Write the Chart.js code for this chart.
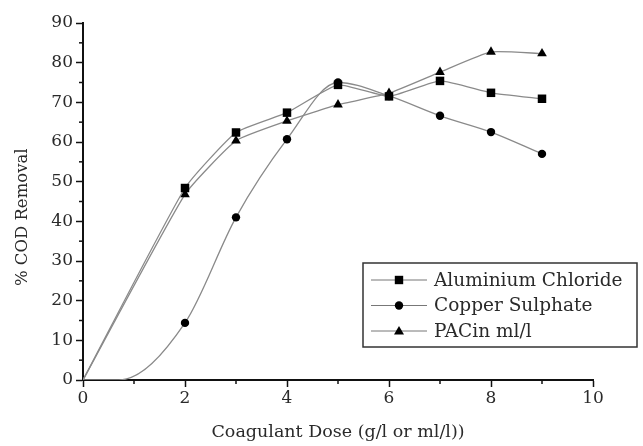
<!DOCTYPE html>
<html>
<head>
<meta charset="utf-8">
<script src="https://cdn.jsdelivr.net/npm/chart.js@4.4.0/dist/chart.umd.min.js"></script>
<style>
  html, body { margin: 0; padding: 0; background: #fff; }
  #chart { display: block; }
</style>
</head>
<body>
<canvas id="chart" width="643" height="446"></canvas>
<script>
const doses = [0, 2, 3, 4, 5, 6, 7, 8, 9];
const alChloride = [0, 48.4, 62.4, 67.4, 74.4, 71.5, 75.4, 72.4, 70.9];
const pacValues = [0, 46.8, 60.3, 65.3, 69.4, 72.3, 77.6, 82.7, 82.3];
// the copper curve lies on the axis until about 0.7
const copperDoses = [0, 0.7, 2, 3, 4, 5, 6, 7, 8, 9];
const copperSulphate = [0, 0, 14.4, 41, 60.7, 75, 71.6, 66.6, 62.5, 57];
const seriesNames = ['Aluminium Chloride', 'Copper Sulphate', 'PACin ml/l'];
const xTicks = [0, 2, 4, 6, 8, 10];
const yTicks = [0, 10, 20, 30, 40, 50, 60, 70, 80, 90];

const serif = '"DejaVu Serif", "Liberation Serif", serif';
const textColor = '#2a2a2a';

function toPoints(xs, ys) {
    return xs.map((x, i) => ({ x: x, y: ys[i] }));
}

// minor ticks between the major ones, drawn from the scale itself
const minorTicks = {
    id: 'minorTicks',
    afterDraw(chart) {
        const ctx = chart.ctx;
        const xs = chart.scales.x;
        const ys = chart.scales.y;
        ctx.save();
        ctx.strokeStyle = '#111';
        ctx.lineWidth = 1.5;
        for (let i = 0; i < xTicks.length - 1; i++) {
            const px = xs.getPixelForValue((xTicks[i] + xTicks[i + 1]) / 2);
            ctx.beginPath();
            ctx.moveTo(px, xs.top);
            ctx.lineTo(px, xs.top + 4);
            ctx.stroke();
        }
        for (let i = 0; i < yTicks.length - 1; i++) {
            const py = ys.getPixelForValue((yTicks[i] + yTicks[i + 1]) / 2);
            ctx.beginPath();
            ctx.moveTo(ys.right, py);
            ctx.lineTo(ys.right - 4, py);
            ctx.stroke();
        }
        ctx.restore();
    }
};

function drawMarker(ctx, style, x, y) {
    ctx.beginPath();
    if (style === 'rect') {
        ctx.rect(x - 4.2, y - 4.2, 8.4, 8.4);
    } else if (style === 'circle') {
        ctx.arc(x, y, 4.2, 0, Math.PI * 2);
    } else {
        ctx.moveTo(x, y - 5);
        ctx.lineTo(x + 5, y + 3.5);
        ctx.lineTo(x - 5, y + 3.5);
        ctx.closePath();
    }
    ctx.fill();
}

// boxed legend in the lower right
const boxLegend = {
    id: 'boxLegend',
    afterDraw(chart) {
        const ctx = chart.ctx;
        ctx.save();
        ctx.strokeStyle = '#333';
        ctx.lineWidth = 1.5;
        ctx.strokeRect(363, 263, 274, 84);
        chart.data.datasets.forEach((ds, i) => {
            const y = 280 + i * 25.5;
            ctx.strokeStyle = '#777';
            ctx.lineWidth = 1;
            ctx.beginPath();
            ctx.moveTo(371, y);
            ctx.lineTo(427, y);
            ctx.stroke();
            ctx.fillStyle = '#000';
            drawMarker(ctx, ds.pointStyle, 399, y);
            ctx.fillStyle = textColor;
            ctx.font = '18.5px ' + serif;
            ctx.textBaseline = 'middle';
            ctx.fillText(ds.label, 434, y + 1);
        });
        ctx.restore();
    }
};

const ctx = document.getElementById('chart').getContext('2d');
new Chart(ctx, {
    type: 'line',
    data: {
        datasets: [{
            label: seriesNames[0],
            data: toPoints(doses, alChloride),
            pointStyle: 'rect',
            pointRadius: doses.map((d, i) => i === 0 ? 0 : 6),
            tension: 0.15
        }, {
            label: seriesNames[1],
            data: toPoints(copperDoses, copperSulphate),
            pointStyle: 'circle',
            pointRadius: copperDoses.map((d, i) => i < 2 ? 0 : 4.2),
            cubicInterpolationMode: 'monotone'
        }, {
            label: seriesNames[2],
            data: toPoints(doses, pacValues),
            pointStyle: 'triangle',
            pointRadius: doses.map((d, i) => i === 0 ? 0 : 5.6),
            tension: 0.15
        }]
    },
    options: {
        responsive: false,
        animation: false,
        layout: { padding: { top: 23, right: 50, left: 0, bottom: 0 } },
        elements: {
            line: { borderColor: '#8a8a8a', borderWidth: 1.3, fill: false },
            point: { backgroundColor: '#000', borderColor: '#000', borderWidth: 0, hoverRadius: 6 }
        },
        plugins: {
            legend: { display: false },
            tooltip: { enabled: false }
        },
        scales: {
            x: {
                type: 'linear',
                min: 0,
                max: 10,
                afterFit(scale) { scale.height = 66; },
                ticks: { stepSize: 2, color: textColor, font: { family: serif, size: 17 }, padding: 1, maxRotation: 0 },
                grid: { drawOnChartArea: false, drawTicks: true, tickLength: 7, tickColor: '#111', tickWidth: 1.5 },
                border: { color: '#111', width: 2 },
                title: {
                    display: true,
                    text: 'Coagulant Dose (g/l or ml/l))',
                    color: textColor,
                    font: { family: serif, size: 17.5 },
                    padding: { top: 0, bottom: 3 }
                }
            },
            y: {
                min: 0,
                max: 90,
                afterFit(scale) { scale.width = 83; },
                ticks: { stepSize: 10, color: textColor, font: { family: serif, size: 17 }, padding: 3 },
                grid: { drawOnChartArea: false, drawTicks: true, tickLength: 7, tickColor: '#111', tickWidth: 1.5 },
                border: { color: '#111', width: 2 },
                title: {
                    display: true,
                    text: '% COD Removal      ',
                    color: textColor,
                    font: { family: serif, size: 16.5 },
                    padding: { top: 13, bottom: 0 }
                }
            }
        }
    },
    plugins: [minorTicks, boxLegend]
});
</script>
</body>
</html>
